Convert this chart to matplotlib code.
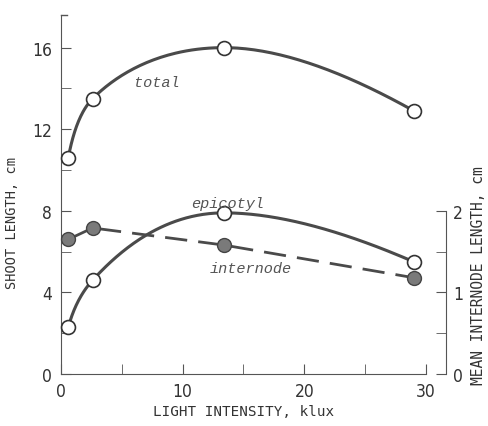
import numpy as np
import matplotlib
matplotlib.use("Agg")
import matplotlib.pyplot as plt
from matplotlib.ticker import MultipleLocator, FixedLocator

# data
light = [0.6, 2.6, 13.4, 29.0]
total = [10.6, 13.5, 16.0, 12.9]
epicotyl = [2.3, 4.6, 7.9, 5.5]
internode = [1.65, 1.79, 1.58, 1.18]   # right axis, cm

ink = "#4a4a4a"


def smooth(x, y, n=60):
    # monotone cubic (pchip) through the points in sqrt(x), for the hand-drawn curve
    u = np.sqrt(np.asarray(x, float))
    y = np.asarray(y, float)
    h = np.diff(u)
    d = np.diff(y) / h
    m = np.zeros_like(y)
    for k in range(1, len(u) - 1):
        if d[k - 1] * d[k] > 0:
            w1 = 2 * h[k] + h[k - 1]
            w2 = h[k] + 2 * h[k - 1]
            m[k] = (w1 + w2) / (w1 / d[k - 1] + w2 / d[k])
    # quadratic end conditions, so the ends bend like the drawn curves
    m[0] = 2 * d[0] - m[1]
    m[-1] = 2 * d[-1] - m[-2]
    us, ys = [], []
    for k in range(len(u) - 1):
        t = np.linspace(0, 1, n)
        h00 = 2 * t**3 - 3 * t**2 + 1
        h10 = t**3 - 2 * t**2 + t
        h01 = -2 * t**3 + 3 * t**2
        h11 = t**3 - t**2
        us.append(u[k] + t * h[k])
        ys.append(h00 * y[k] + h10 * h[k] * m[k] + h01 * y[k + 1] + h11 * h[k] * m[k + 1])
    return np.concatenate(us) ** 2, np.concatenate(ys)


plt.rcParams["font.family"] = ["Liberation Sans Narrow", "DejaVu Sans"]
plt.rcParams["font.stretch"] = "condensed"
fig = plt.figure(figsize=(4.89, 4.27), dpi=100)
ax = fig.add_axes([61 / 489, 52 / 427, 365 / 489, 359 / 427])
ax.set_xlim(0, 30)
ax.set_ylim(0, 17.6)

for yy in (total, epicotyl):
    sx, sy = smooth(light, yy)
    ax.plot(sx, sy, color=ink, lw=2.2, zorder=2)
    ax.plot(light, yy, "o", ms=10, mfc="white", mec="#333333", mew=1.2, zorder=3, clip_on=False)

ax.spines["top"].set_visible(False)
ax.spines["right"].set_visible(False)
ax.spines["left"].set_color("#555555")
ax.spines["bottom"].set_color("#555555")
ax.xaxis.set_major_locator(MultipleLocator(10))
ax.xaxis.set_minor_locator(MultipleLocator(5))
ax.yaxis.set_major_locator(MultipleLocator(4))
ax.yaxis.set_minor_locator(MultipleLocator(2))
ax.tick_params(which="both", direction="in", length=7, color="#555555", labelsize=12.5, labelcolor="#333333")
ax.tick_params(axis="y", pad=6.5)
ax.tick_params(axis="x", pad=5.5)
ax.plot([0, 0.5], [17.6, 17.6], color="#555555", lw=1, clip_on=False)

ax.set_xlabel("LIGHT INTENSITY, klux", family="DejaVu Sans Mono", fontsize=10.3, color="#333333")
ax.xaxis.set_label_coords(0.499, -0.084)
ax.set_ylabel("SHOOT LENGTH, cm", family="DejaVu Sans Mono", fontsize=9.8, color="#333333")
ax.yaxis.set_label_coords(-0.115, 0.423)

ax2 = ax.twinx()
ax2.set_ylim(0, 17.6 / 4)
ax2.plot(light, internode, color=ink, lw=2, dashes=(8, 4), zorder=2)
ax2.plot(light, internode, "o", ms=10, mfc="#7a7a7a", mec="#444444", mew=1, zorder=3, clip_on=False)
for s in ("top", "left", "bottom"):
    ax2.spines[s].set_visible(False)
ax2.spines["right"].set_position(("axes", 385 / 365))
ax2.spines["right"].set_bounds(0, 2)
ax2.spines["right"].set_color("#555555")
ax2.yaxis.set_major_locator(FixedLocator([0, 1, 2]))
ax2.yaxis.set_minor_locator(FixedLocator([0.5, 1.5]))
ax2.tick_params(which="both", direction="in", length=7, color="#555555", labelsize=12.5, labelcolor="#333333", pad=5)
ax2.set_ylabel("MEAN INTERNODE LENGTH, cm", family="DejaVu Sans Mono", fontsize=10.5, color="#333333", rotation=90)
ax2.yaxis.set_label_coords(1.122, 0.276)

tfont = dict(family="Liberation Mono", style="italic", fontsize=11, color="#555555", ha="center", va="center")
ax.text(7.9, 14.3, "total", **tfont)
ax.text(13.7, 8.4, "epicotyl", **tfont)
ax.text(15.6, 5.2, "internode", **tfont)

fig.savefig("out.png", dpi=100)
